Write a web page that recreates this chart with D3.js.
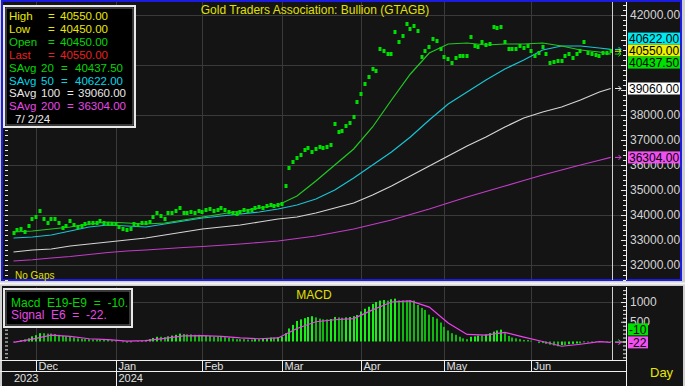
<!DOCTYPE html>
<html>
<head>
<meta charset="utf-8">
<script src="https://cdn.jsdelivr.net/npm/d3@7"></script>
<style>
  body { margin: 0; background: #d0d0d0; }
  svg { display: block; font-family: "Liberation Sans", Arial, sans-serif; }
</style>
</head>
<body>
<div id="container"></div>
<script>
// daily closes, one per weekday from 23 Nov 2023 to 2 Jul 2024
let closes = [
  33280, 33400, 33440, 33320, 33560, 33840, 33920, 34160, 33840, 33680,
  33840, 33840, 33680, 33480, 33560, 33760, 33600, 33520, 33560, 33640,
  33680, 33680, 33680, 33760, 33680, 33640, 33640, 33640, 33520, 33440,
  33400, 33440, 33640, 33600, 33680, 33680, 33720, 33920, 34080, 33960,
  33840, 34080, 34080, 34160, 34280, 34080, 34080, 34120, 34080, 34160,
  34120, 34200, 34240, 34160, 34200, 34280, 34200, 34120, 34080, 34040,
  34120, 34200, 34160, 34200, 34280, 34320, 34280, 34360, 34400, 34360,
  34400, 34440, 35160, 35880, 36120, 36280, 36400, 36600, 36680, 36520,
  36640, 36720, 36680, 36720, 36800, 37640, 37320, 37360, 37560, 37680,
  37920, 38520, 38840, 39240, 39520, 39840, 39760, 40640, 40560, 40440,
  40440, 41320, 40920, 41160, 41640, 41440, 41560, 41360, 40320, 40560,
  40720, 41040, 40960, 40640, 40320, 40240, 40080, 40280, 40360, 40360,
  40360, 41120, 40760, 40720, 40920, 40800, 40840, 41520, 41480, 41520,
  40920, 40640, 40640, 40640, 40760, 40680, 40760, 40560, 40360, 40480,
  40720, 40440, 40080, 40120, 40160, 40160, 40360, 40440, 40280, 40440,
  40560, 40920, 40480, 40440, 40400, 40360, 40480, 40480, 40550
];

// last bar
let lastHigh = 40550;
let lastLow = 40450;
let lastOpen = 40450;

// averages read every 5th day (day number in the series)
let avgDays = [0, 5, 10, 15, 20, 25, 30, 35, 40, 45, 50, 55, 60, 65, 70, 75, 80,
  85, 90, 95, 100, 105, 110, 115, 120, 125, 130, 135, 140, 145, 150, 155, 158];

let sma20 = [33320, 33360, 33440, 33520, 33640, 33720, 33680, 33640, 33680, 33800,
  33920, 34040, 34160, 34280, 34400, 34760, 35360, 36000, 36640, 37520, 38600,
  39640, 40480, 40840, 40880, 40800, 40840, 40840, 40880, 40760, 40600, 40520, 40437.5];

let sma50 = [33080, 33120, 33200, 33360, 33520, 33600, 33560, 33520, 33640, 33760,
  33880, 33960, 34040, 34120, 34240, 34400, 34640, 35000, 35480, 36000, 36520,
  37120, 37800, 38440, 38920, 39400, 39840, 40200, 40600, 40760, 40760, 40680, 40622];

let sma100 = [32520, 32600, 32640, 32760, 32840, 32920, 33000, 33080, 33200, 33320,
  33440, 33520, 33600, 33720, 33840, 33920, 34080, 34280, 34480, 34800, 35160,
  35560, 35960, 36360, 36760, 37120, 37520, 37880, 38120, 38320, 38600, 38920, 39060];

let sma200 = [32160, 32210, 32280, 32340, 32420, 32500, 32560, 32600, 32650, 32700,
  32740, 32790, 32840, 32900, 32960, 33060, 33160, 33300, 33440, 33620, 33800,
  34020, 34240, 34480, 34720, 34940, 35160, 35380, 35600, 35800, 36000, 36190, 36304];

// MACD (E19-E9) daily histogram
let macd = [
  -10, 10, 30, 50, 80, 130, 160, 210, 210, 200,
  200, 190, 170, 140, 130, 120, 100, 80, 70, 60,
  60, 50, 50, 50, 40, 40, 30, 20, 0, -20,
  -30, -20, 0, 10, 20, 40, 60, 90, 120, 120,
  110, 130, 150, 170, 200, 190, 180, 180, 170, 170,
  150, 140, 140, 120, 120, 120, 110, 100, 80, 60,
  60, 60, 50, 50, 60, 60, 70, 80, 100, 100,
  110, 120, 210, 330, 420, 520, 560, 590, 620, 640,
  610, 580, 560, 560, 570, 620, 610, 600, 610, 620,
  640, 670, 760, 830, 880, 950, 1000, 1035, 1050, 1035,
  1070, 1085, 1040, 1040, 1040, 1040, 1035, 925, 850, 800,
  680, 620, 580, 480, 370, 280, 210, 170, 120, 80,
  60, 120, 130, 150, 150, 180, 210, 250, 280, 300,
  210, 140, 100, 80, 60, 40, 40, 20, 0, -40,
  -40, -60, -80, -100, -120, -90, -90, -70, -60, -50,
  -50, -20, -20, -10, -10, -15, -10, -12, -10
];

// signal E6, at the same days as the averages
let signal = [-20, 60, 160, 130, 70, 45, 10, 20, 80, 140, 150, 130, 90, 70, 90,
  330, 500, 550, 580, 800, 1000, 1030, 870, 470, 180, 160, 230, 110, 0, -120,
  -70, -5, -22];

let priceTicks = d3.range(32000, 42001, 1000);
let priceGrid = d3.range(32000, 42001, 2000);
let macdTicks = [0, 500, 1000];

let w = 685;
let h = 386;
let n = closes.length;

let days = d3.timeDay.range(new Date(2023, 10, 23), new Date(2024, 6, 3))
  .filter(d => d.getDay() > 0 && d.getDay() < 6);

// month starts, leaving out a month that has only a day or two on the chart
let monthStarts = d3.range(1, n)
  .filter(i => days[i].getMonth() != days[i - 1].getMonth() && i < n - 5);

let x = d3.scaleLinear().domain([0, n - 1]).range([13.5, 610.7]);
let y = d3.scaleLinear().domain([32000, 42000]).range([265, 15]);
let ym = d3.scaleLinear().domain([0, 1000]).range([341.5, 302]);

let gx = i => Math.round(x(i)) + 0.5;

let svg = d3.select("#container")
  .append("svg")
    .attr("width", w)
    .attr("height", h)
;

svg.append("rect").attr("width", w).attr("height", h).attr("fill", "#d0d0d0");

// ---------- main panel ----------
svg.append("rect")
  .attr("x", 2).attr("y", 1).attr("width", 679).attr("height", 279)
  .attr("fill", "#141414")
  .attr("stroke", "#1c1ce0").attr("stroke-width", 2);

// macd panel
svg.append("line").attr("x1", 0).attr("x2", w).attr("y1", 283.5).attr("y2", 283.5)
  .attr("stroke", "#f4f4f4").attr("stroke-width", 2);
svg.append("rect")
  .attr("x", 2).attr("y", 286).attr("width", 681).attr("height", 100)
  .attr("fill", "#141414");

let grid = svg.append("g").attr("stroke", "#3a3a3a").attr("stroke-width", 1);

grid.selectAll(".hg").data(priceGrid).enter().append("line")
  .attr("x1", 3).attr("x2", 622)
  .attr("y1", d => Math.round(y(d)) + 0.5)
  .attr("y2", d => Math.round(y(d)) + 0.5);

grid.selectAll(".vg").data(monthStarts).enter().append("line")
  .attr("x1", gx).attr("x2", gx)
  .attr("y1", 2).attr("y2", 280);

grid.selectAll(".vm").data(monthStarts).enter().append("line")
  .attr("x1", gx).attr("x2", gx)
  .attr("y1", 287).attr("y2", 360);

grid.append("line")
  .attr("x1", 3).attr("x2", 622)
  .attr("y1", Math.round(ym(1000)) + 0.5).attr("y2", Math.round(ym(1000)) + 0.5);

// moving averages
let avgLine = d3.line()
  .x((d, k) => x(avgDays[k]))
  .y(d => y(d))
;

let avgs = [
  { vals: sma200, color: "#c23cc8" },
  { vals: sma100, color: "#d4d4d4" },
  { vals: sma50, color: "#18c4d4" },
  { vals: sma20, color: "#22c822" }
];

avgs.forEach(a => {
  svg.append("path")
    .datum(a.vals)
    .attr("d", avgLine)
    .attr("fill", "none")
    .attr("stroke", a.color)
    .attr("stroke-width", 1.2);
});

// daily closes as small squares
svg.append("g").selectAll("rect").data(closes).enter().append("rect")
  .attr("x", (d, i) => Math.round(x(i)) - 1.5)
  .attr("y", d => Math.round(y(d)) - 2)
  .attr("width", 3)
  .attr("height", 4)
  .attr("fill", "#00e000");

// macd histogram
svg.append("g").selectAll("rect").data(macd).enter().append("rect")
  .attr("x", (d, i) => Math.round(x(i)) - 1)
  .attr("y", d => Math.min(ym(d), ym(0)))
  .attr("width", 2)
  .attr("height", d => Math.abs(ym(d) - ym(0)))
  .attr("fill", (d, i) => (i > 0 && d > macd[i - 1]) ? "#16f016" : "#10b810");

let sigLine = d3.line()
  .x((d, k) => x(avgDays[k]))
  .y(d => ym(d))
;

svg.append("path")
  .datum(signal)
  .attr("d", sigLine)
  .attr("fill", "none")
  .attr("stroke", "#f040f0")
  .attr("stroke-width", 1.2);

// today line + right axis line
let todayX = Math.round(x(n - 1)) + 1.5;
svg.append("line").attr("x1", todayX).attr("x2", todayX).attr("y1", 2).attr("y2", 280)
  .attr("stroke", "#d0d0d0");
svg.append("line").attr("x1", todayX).attr("x2", todayX).attr("y1", 287).attr("y2", 360)
  .attr("stroke", "#d0d0d0");
svg.append("line").attr("x1", 626.5).attr("x2", 626.5).attr("y1", 2).attr("y2", 280)
  .attr("stroke", "#f0f0f0");
svg.append("line").attr("x1", 626.5).attr("x2", 626.5).attr("y1", 287).attr("y2", 386)
  .attr("stroke", "#f0f0f0");

// axes
function styleAxis(g) {
  g.select(".domain").remove();
  g.selectAll("line").attr("stroke", "#e8e8e8");
  g.selectAll("text").attr("fill", "#d4d4d4").style("font-size", "12px")
    .style("font-family", "'Liberation Sans', Arial, sans-serif");
}

let priceAxis = svg.append("g").attr("transform", "translate(626,0)")
  .call(d3.axisRight(y).tickValues(priceTicks).tickFormat(d3.format(".2f"))
    .tickSizeInner(-5).tickSizeOuter(0).tickPadding(4))
  .call(styleAxis);

svg.append("g").attr("transform", "translate(626,0)")
  .call(d3.axisRight(y).tickValues(d3.range(31400, 42500, 200)).tickFormat("")
    .tickSizeInner(-3).tickSizeOuter(0))
  .call(styleAxis);

svg.append("g").attr("transform", "translate(5,0)")
  .call(d3.axisRight(y).tickValues(d3.range(31400, 42500, 200)).tickFormat("")
    .tickSizeInner(3).tickSizeOuter(0))
  .call(styleAxis);

let macdAxis = svg.append("g").attr("transform", "translate(626,0)")
  .call(d3.axisRight(ym).tickValues(macdTicks).tickFormat(d3.format("d"))
    .tickSizeInner(-5).tickSizeOuter(0).tickPadding(4))
  .call(styleAxis);

svg.append("g").attr("transform", "translate(626,0)")
  .call(d3.axisRight(ym).tickValues(d3.range(-400, 1400, 100)).tickFormat("")
    .tickSizeInner(-3).tickSizeOuter(0))
  .call(styleAxis);

svg.append("g").attr("transform", "translate(5,0)")
  .call(d3.axisRight(ym).tickValues(d3.range(-400, 1400, 100)).tickFormat("")
    .tickSizeInner(3).tickSizeOuter(0))
  .call(styleAxis);

// value tags on the right axis
let tagYs = [];
function arrow(yv, color) {
  svg.append("path")
    .attr("d", `M615,${yv} L621,${yv} M618.5,${yv - 2.5} L621,${yv} L618.5,${yv + 2.5}`)
    .attr("fill", "none").attr("stroke", color).attr("stroke-width", 1);
}
function tag(yc, label, bg, wd) {
  tagYs.push(yc);
  svg.append("rect").attr("x", 628).attr("y", yc - 6).attr("width", wd).attr("height", 12)
    .attr("fill", bg);
  svg.append("text").attr("x", 629).attr("y", yc + 4.5).text(label)
    .attr("fill", "#000").style("font-size", "12px");
}

let last = k => k[k.length - 1];
let fmt = d3.format(".2f");

let stacked = [
  { v: last(sma50), bg: "#00e8f0" },
  { v: last(closes), bg: "#f0f000" },
  { v: last(sma20), bg: "#00e000" }
];
stacked.forEach(s => arrow(y(s.v), s.bg));
let mid = d3.mean(stacked, s => y(s.v)) - 1;
stacked.forEach((s, k) => tag(mid + (k - 1) * 12, fmt(s.v), s.bg, 52));

arrow(y(last(sma100)), "#f0f0f0");
tag(y(last(sma100)), fmt(last(sma100)), "#ffffff", 52);
arrow(y(last(sma200)), "#e040e0");
tag(y(last(sma200)), fmt(last(sma200)), "#f050f0", 52);

arrow(ym(last(macd)), "#00e000");
arrow(ym(last(signal)), "#f040f0");
tag(ym(last(signal)) - 13, String(last(macd)), "#00e000", 20);
tag(ym(last(signal)), String(last(signal)), "#f050f0", 20);

// tick labels that sit right under a tag are hidden by it
priceAxis.selectAll(".tick")
  .filter(d => tagYs.some(t => Math.abs(t - y(d)) < 6))
  .select("text").remove();
macdAxis.selectAll(".tick")
  .filter(d => tagYs.some(t => Math.abs(t - ym(d)) < 6))
  .select("text").remove();

// ---------- date axis ----------
svg.append("line").attr("x1", 0).attr("x2", 626).attr("y1", 360.5).attr("y2", 360.5)
  .attr("stroke", "#f0f0f0");
svg.append("line").attr("x1", 0).attr("x2", 626).attr("y1", 371.5).attr("y2", 371.5)
  .attr("stroke", "#f0f0f0");

svg.selectAll(".mt").data(monthStarts).enter().append("line")
  .attr("x1", gx).attr("x2", gx)
  .attr("y1", 360)
  .attr("y2", i => days[i].getMonth() == 0 ? 386 : 371)
  .attr("stroke", "#f0f0f0");

svg.selectAll(".ml").data(monthStarts).enter().append("text")
  .attr("x", i => gx(i) + 2)
  .attr("y", 370)
  .text(i => d3.timeFormat("%b")(days[i]))
  .attr("fill", "#e0e0e0")
  .style("font-size", "11px");

let yearStarts = [0].concat(monthStarts.filter(i => days[i].getMonth() == 0));
svg.selectAll(".yl").data(yearStarts).enter().append("text")
  .attr("x", i => i == 0 ? 14 : gx(i) + 2)
  .attr("y", 382)
  .text(i => days[i].getFullYear())
  .attr("fill", "#e0e0e0")
  .style("font-size", "11px");

svg.append("text").attr("x", 650).attr("y", 377).text("Day")
  .attr("fill", "#e8e800").style("font-size", "13px");

// ---------- titles ----------
svg.append("text").attr("x", 315).attr("y", 14).attr("text-anchor", "middle")
  .text("Gold Traders Association: Bullion (GTAGB)")
  .attr("fill", "#e0e000").style("font-size", "12px");

svg.append("text").attr("x", 314).attr("y", 299).attr("text-anchor", "middle")
  .text("MACD").attr("fill", "#e0e000").style("font-size", "12px");

svg.append("text").attr("x", 15).attr("y", 279).text("No Gaps")
  .attr("fill", "#e0e000").style("font-size", "10px");

// ---------- legend boxes ----------
function box(x0, y0, bw, bh) {
  svg.append("rect").attr("x", x0 + 1).attr("y", y0 + 1).attr("width", bw - 2).attr("height", bh - 2)
    .attr("fill", "#000").attr("stroke", "#e8e8e8").attr("stroke-width", 2);
  svg.append("rect").attr("x", x0 + 3).attr("y", y0 + 3).attr("width", bw - 6).attr("height", bh - 6)
    .attr("fill", "none").attr("stroke", "#707070").attr("stroke-width", 1);
}

box(3, 5, 133, 123);

let rows = [
  { parts: ["High", "=", fmt(lastHigh)], xs: [9, 48, 60], color: "#e8e800" },
  { parts: ["Low", "=", fmt(lastLow)], xs: [9, 48, 60], color: "#e8e800" },
  { parts: ["Open", "=", fmt(lastOpen)], xs: [9, 48, 60], color: "#00d800" },
  { parts: ["Last", "=", fmt(last(closes))], xs: [9, 48, 60], color: "#e82020" },
  { parts: ["SAvg", "20", "=", fmt(last(sma20))], xs: [9, 41, 61, 75], color: "#00d800" },
  { parts: ["SAvg", "50", "=", fmt(last(sma50))], xs: [9, 41, 61, 75], color: "#00d8e8" },
  { parts: ["SAvg", "100", "=", fmt(last(sma100))], xs: [9, 41, 67, 78], color: "#e8e8e8" },
  { parts: ["SAvg", "200", "=", fmt(last(sma200))], xs: [9, 41, 67, 78], color: "#e848e8" },
  { parts: [d3.timeFormat("%-m/ %-d/%y")(days[n - 1])], xs: [15], color: "#e8e8e8" }
];

rows.forEach((r, k) => {
  r.parts.forEach((p, j) => {
    svg.append("text")
      .attr("x", r.xs[j])
      .attr("y", 20 + k * 12.9)
      .text(p)
      .attr("fill", r.color)
      .style("font-size", "11.5px");
  });
});

box(3, 288, 130, 40);
svg.append("text").attr("x", 11).attr("y", 307)
  .style("white-space", "pre")
  .text("Macd  E19-E9  =  " + last(macd) + ".")
  .attr("fill", "#00d800").style("font-size", "12px");
svg.append("text").attr("x", 11).attr("y", 319)
  .style("white-space", "pre")
  .text("Signal  E6  =  " + last(signal) + ".")
  .attr("fill", "#e848e8").style("font-size", "12px");
</script>
</body>
</html>
